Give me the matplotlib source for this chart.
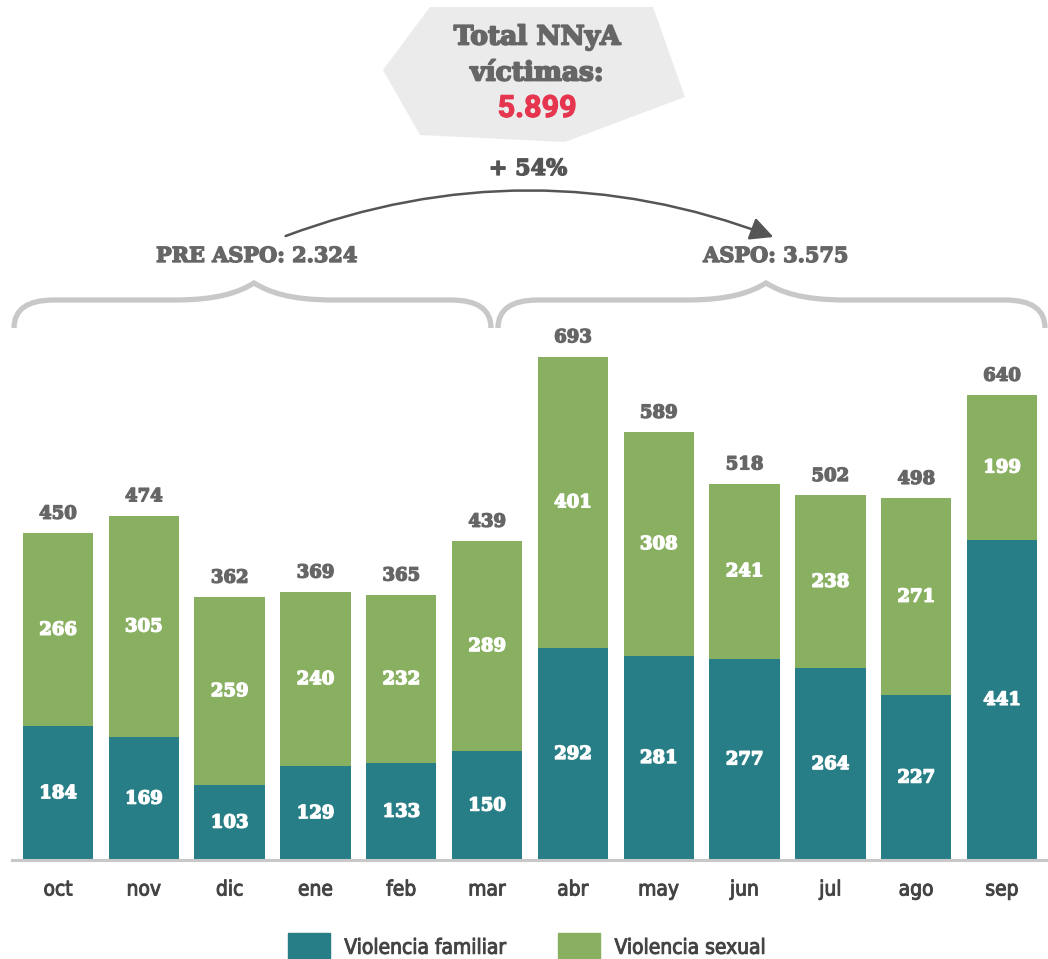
import matplotlib
matplotlib.use("Agg")
import matplotlib.pyplot as plt
from matplotlib.path import Path
from matplotlib.patches import PathPatch, Polygon, Patch, FancyArrowPatch
import matplotlib.patheffects as pe
from matplotlib import font_manager as fm
import numpy as np

# data
meses = ["oct", "nov", "dic", "ene", "feb", "mar", "abr", "may", "jun", "jul", "ago", "sep"]
familiar = [184, 169, 103, 129, 133, 150, 292, 281, 277, 264, 227, 441]
sexual = [266, 305, 259, 240, 232, 289, 401, 308, 241, 238, 271, 199]
totales = [450, 474, 362, 369, 365, 439, 693, 589, 518, 502, 498, 640]

C_FAM = "#277e86"
C_SEX = "#88b060"
GRIS = "#666666"
SLAB = "DejaVu Serif"

# condensed sans for ticks / legend
narrow = fm.FontProperties(family="DejaVu Sans", stretch="condensed", size=15)

W, H = 1048, 959
fig = plt.figure(figsize=(W / 100, H / 100), dpi=100)


def px(x, y):
    # pixel coords (from top-left) -> figure fraction
    return (x / W, 1 - y / H)


def grueso(c, w=1.0):
    return [pe.withStroke(linewidth=w, foreground=c)]


ax = fig.add_axes([12 / W, 1 - 860 / H, 1036 / W, 520 / H])
x = np.arange(len(meses))
ax.bar(x, familiar, width=0.82, color=C_FAM, zorder=2)
ax.bar(x, sexual, width=0.82, bottom=familiar, color=C_SEX, zorder=2)
ax.set_xlim(-0.536, 11.536)
ax.set_ylim(0, 716)

for i in range(len(meses)):
    ax.text(x[i], familiar[i] / 2, str(familiar[i]), ha="center", va="center",
            color="white", fontsize=13, fontweight="bold", family=SLAB,
            path_effects=grueso("white"))
    ax.text(x[i], familiar[i] + sexual[i] / 2, str(sexual[i]), ha="center", va="center",
            color="white", fontsize=13, fontweight="bold", family=SLAB,
            path_effects=grueso("white"))
    ax.annotate(str(totales[i]), (x[i], totales[i]), xytext=(0, 14), textcoords="offset points",
                ha="center", va="center", color=GRIS, fontsize=13, fontweight="bold", family=SLAB,
                path_effects=grueso(GRIS))

for s in ["top", "right", "left"]:
    ax.spines[s].set_visible(False)
ax.spines["bottom"].set_color("#c8c8c8")
ax.spines["bottom"].set_linewidth(2.2)
ax.set_yticks([])
ax.set_xticks(x)
ax.set_xticklabels(meses, fontproperties=narrow, color="#444444")
for t in ax.get_xticklabels():
    t.set_path_effects(grueso("#444444", 0.7))
ax.tick_params(axis="x", length=0, pad=14)

# legend
handles = [Patch(color=C_FAM, label="Violencia familiar"), Patch(color=C_SEX, label="Violencia sexual")]
leg = fig.legend(handles=handles, loc="center", bbox_to_anchor=px(527, 947), ncol=2, frameon=False,
                 prop=narrow, handlelength=2.0, handleheight=1.7, handletextpad=0.7,
                 columnspacing=2.5, labelcolor="#444444")
for t in leg.get_texts():
    t.set_path_effects(grueso("#444444", 0.7))

# gray hexagon
hexa = [px(430, 7), px(653, 7), px(685, 97), px(565, 142), px(420, 135), px(383, 70)]
fig.patches.append(Polygon(hexa, closed=True, facecolor="#ebebeb", edgecolor="none",
                           transform=fig.transFigure, figure=fig))
fig.text(*px(537, 37), "Total NNyA", ha="center", va="center", fontsize=19,
         fontweight="bold", family=SLAB, color=GRIS, path_effects=grueso(GRIS, 1.3))
fig.text(*px(537, 73), "víctimas:", ha="center", va="center", fontsize=19,
         fontweight="bold", family=SLAB, color=GRIS, path_effects=grueso(GRIS, 1.3))
fig.text(*px(537, 108), "5.899", ha="center", va="center", fontsize=22,
         fontweight="bold", family=["Roboto", "DejaVu Sans"], color="#e6354f",
         path_effects=grueso("#e6354f", 0.8))

fig.text(*px(528, 169), "+ 54%", ha="center", va="center", fontsize=16,
         fontweight="bold", family=SLAB, color="#555555", path_effects=grueso("#555555"))
fig.text(*px(257, 256), "PRE ASPO: 2.324", ha="center", va="center", fontsize=15,
         fontweight="bold", family=SLAB, color=GRIS, path_effects=grueso(GRIS))
fig.text(*px(776, 256), "ASPO: 3.575", ha="center", va="center", fontsize=15,
         fontweight="bold", family=SLAB, color=GRIS, path_effects=grueso(GRIS))

# curved arrow
arr = FancyArrowPatch(px(283, 237), px(776, 238), connectionstyle="arc3,rad=-0.19",
                      arrowstyle="-|>,head_length=14,head_width=7", color="#555555",
                      linewidth=1.8, transform=fig.transFigure, mutation_scale=1)
fig.patches.append(arr)


def llave(x0, x1, tip):
    ytop, yb, ypk = 300, 328, 283
    pts = [(x0, yb), (x0, ytop), (x0 + 40, ytop),
           (tip - 80, ytop),
           (tip - 35, ytop), (tip - 15, 292), (tip, ypk),
           (tip + 15, 292), (tip + 35, ytop), (tip + 80, ytop),
           (x1 - 40, ytop),
           (x1, ytop), (x1, yb)]
    codes = [Path.MOVETO, Path.CURVE3, Path.CURVE3, Path.LINETO,
             Path.CURVE4, Path.CURVE4, Path.CURVE4,
             Path.CURVE4, Path.CURVE4, Path.CURVE4,
             Path.LINETO, Path.CURVE3, Path.CURVE3]
    p = Path([px(*q) for q in pts], codes)
    fig.patches.append(PathPatch(p, facecolor="none", edgecolor="#c8c8c8", linewidth=3.8,
                                 transform=fig.transFigure, figure=fig))


llave(14, 491, 254)
llave(498, 1045, 766)

fig.savefig("out.png", dpi=100)
